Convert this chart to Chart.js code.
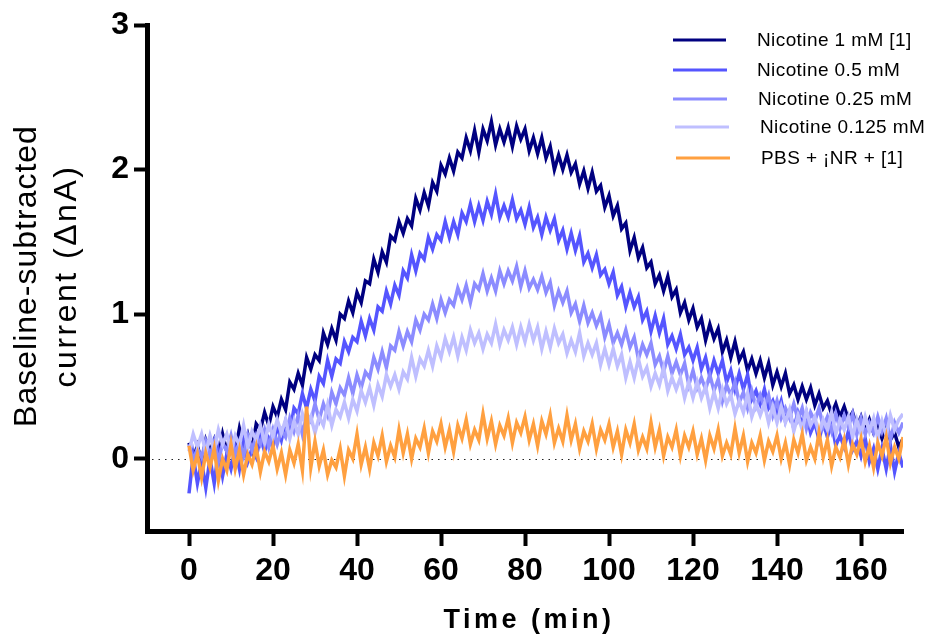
<!DOCTYPE html>
<html>
<head>
<meta charset="utf-8">
<script src="https://cdn.jsdelivr.net/npm/chart.js"></script>
<style>
html, body { margin: 0; padding: 0; background: #fff; }
#wrap { width: 930px; height: 639px; }
</style>
</head>
<body>
<div id="wrap"><canvas id="currentChart" width="930" height="639"></canvas></div>
<script>
// time axis (min), one reading per minute
const timeMin = [
  0, 1, 2, 3, 4, 5, 6, 7, 8, 9, 10, 11, 12, 13, 14, 15, 16, 17, 18, 19,
  20, 21, 22, 23, 24, 25, 26, 27, 28, 29, 30, 31, 32, 33, 34, 35, 36, 37, 38, 39,
  40, 41, 42, 43, 44, 45, 46, 47, 48, 49, 50, 51, 52, 53, 54, 55, 56, 57, 58, 59,
  60, 61, 62, 63, 64, 65, 66, 67, 68, 69, 70, 71, 72, 73, 74, 75, 76, 77, 78, 79,
  80, 81, 82, 83, 84, 85, 86, 87, 88, 89, 90, 91, 92, 93, 94, 95, 96, 97, 98, 99,
  100, 101, 102, 103, 104, 105, 106, 107, 108, 109, 110, 111, 112, 113, 114, 115, 116, 117, 118, 119,
  120, 121, 122, 123, 124, 125, 126, 127, 128, 129, 130, 131, 132, 133, 134, 135, 136, 137, 138, 139,
  140, 141, 142, 143, 144, 145, 146, 147, 148, 149, 150, 151, 152, 153, 154, 155, 156, 157, 158, 159,
  160, 161, 162, 163, 164, 165, 166, 167, 168, 169, 170
];

// baseline-subtracted current (nA)
const nic1mM = [
  0.11, 0.00, 0.09, -0.02, 0.13, 0.05, 0.13, 0.01, 0.17, 0.05,
  0.12, 0.05, 0.21, 0.09, 0.17, 0.06, 0.24, 0.20, 0.32, 0.23,
  0.36, 0.29, 0.41, 0.34, 0.53, 0.48, 0.59, 0.51, 0.70, 0.62,
  0.72, 0.68, 0.87, 0.79, 0.90, 0.82, 1.00, 0.97, 1.09, 1.01,
  1.15, 1.08, 1.23, 1.21, 1.38, 1.29, 1.43, 1.36, 1.54, 1.51,
  1.64, 1.56, 1.66, 1.61, 1.80, 1.72, 1.84, 1.75, 1.91, 1.85,
  2.03, 1.97, 2.08, 1.99, 2.12, 2.08, 2.22, 2.13, 2.27, 2.12,
  2.28, 2.20, 2.33, 2.17, 2.28, 2.19, 2.29, 2.16, 2.30, 2.21,
  2.28, 2.13, 2.22, 2.11, 2.22, 2.08, 2.16, 2.00, 2.10, 2.00,
  2.10, 1.98, 2.04, 1.90, 1.99, 1.87, 1.98, 1.85, 1.89, 1.74,
  1.82, 1.68, 1.75, 1.59, 1.63, 1.44, 1.53, 1.39, 1.46, 1.32,
  1.36, 1.21, 1.27, 1.16, 1.26, 1.12, 1.17, 1.01, 1.08, 0.96,
  1.04, 0.91, 0.97, 0.82, 0.93, 0.83, 0.90, 0.74, 0.82, 0.70,
  0.81, 0.68, 0.74, 0.61, 0.69, 0.59, 0.68, 0.56, 0.66, 0.51,
  0.60, 0.50, 0.59, 0.45, 0.51, 0.41, 0.50, 0.41, 0.49, 0.37,
  0.45, 0.35, 0.40, 0.31, 0.38, 0.29, 0.36, 0.27, 0.32, 0.22,
  0.29, 0.19, 0.27, 0.18, 0.23, 0.14, 0.22, 0.13, 0.18, 0.08, 0.14
];
const nic05mM = [
  -0.24, 0.02, -0.17, -0.02, -0.20, 0.00, -0.17, 0.05, -0.12, 0.03,
  -0.07, 0.07, -0.07, 0.12, -0.02, 0.07, 0.01, 0.15, 0.05, 0.14,
  0.08, 0.23, 0.13, 0.26, 0.18, 0.35, 0.31, 0.45, 0.35, 0.48,
  0.40, 0.57, 0.52, 0.68, 0.57, 0.69, 0.66, 0.81, 0.74, 0.84,
  0.81, 0.95, 0.85, 0.97, 0.89, 1.05, 1.02, 1.16, 1.07, 1.20,
  1.13, 1.30, 1.25, 1.41, 1.30, 1.42, 1.38, 1.53, 1.45, 1.55,
  1.51, 1.64, 1.53, 1.64, 1.55, 1.70, 1.64, 1.76, 1.64, 1.75,
  1.65, 1.78, 1.69, 1.83, 1.67, 1.75, 1.67, 1.79, 1.66, 1.72,
  1.62, 1.74, 1.60, 1.67, 1.55, 1.67, 1.58, 1.66, 1.51, 1.58,
  1.45, 1.56, 1.44, 1.54, 1.36, 1.42, 1.32, 1.41, 1.27, 1.31,
  1.21, 1.29, 1.13, 1.19, 1.05, 1.15, 1.05, 1.12, 0.96, 1.02,
  0.88, 0.99, 0.87, 0.97, 0.79, 0.85, 0.76, 0.86, 0.72, 0.77,
  0.68, 0.77, 0.62, 0.70, 0.57, 0.68, 0.59, 0.68, 0.53, 0.61,
  0.48, 0.59, 0.48, 0.58, 0.41, 0.47, 0.38, 0.48, 0.35, 0.40,
  0.31, 0.40, 0.26, 0.33, 0.21, 0.32, 0.24, 0.32, 0.18, 0.25,
  0.13, 0.25, 0.15, 0.25, 0.09, 0.16, 0.08, 0.19, 0.06, 0.12,
  0.02, 0.14, -0.02, 0.07, -0.07, 0.07, -0.07, 0.09, -0.09, 0.04, -0.06
];
const nic025mM = [
  0.10, -0.01, 0.07, 0.01, 0.12, 0.02, 0.12, -0.02, 0.11, 0.05,
  0.16, 0.03, 0.12, 0.02, 0.16, 0.06, 0.16, 0.10, 0.20, 0.08,
  0.20, 0.10, 0.20, 0.15, 0.28, 0.19, 0.30, 0.17, 0.31, 0.26,
  0.38, 0.27, 0.38, 0.30, 0.46, 0.38, 0.49, 0.44, 0.56, 0.45,
  0.58, 0.49, 0.60, 0.56, 0.70, 0.62, 0.74, 0.63, 0.78, 0.75,
  0.88, 0.78, 0.88, 0.81, 0.96, 0.89, 1.00, 0.96, 1.07, 0.97,
  1.10, 1.01, 1.10, 1.06, 1.18, 1.10, 1.20, 1.08, 1.21, 1.17,
  1.28, 1.16, 1.25, 1.16, 1.30, 1.21, 1.30, 1.23, 1.33, 1.19,
  1.30, 1.18, 1.24, 1.17, 1.26, 1.15, 1.22, 1.06, 1.16, 1.08,
  1.16, 1.01, 1.07, 0.95, 1.06, 0.94, 1.01, 0.92, 0.99, 0.84,
  0.93, 0.80, 0.87, 0.79, 0.89, 0.77, 0.84, 0.69, 0.79, 0.72,
  0.80, 0.65, 0.71, 0.60, 0.71, 0.59, 0.67, 0.58, 0.66, 0.51,
  0.61, 0.49, 0.56, 0.48, 0.58, 0.47, 0.55, 0.40, 0.51, 0.44,
  0.53, 0.39, 0.46, 0.35, 0.47, 0.36, 0.44, 0.36, 0.44, 0.30,
  0.40, 0.28, 0.35, 0.28, 0.38, 0.27, 0.35, 0.21, 0.32, 0.26,
  0.35, 0.22, 0.29, 0.19, 0.31, 0.21, 0.30, 0.22, 0.31, 0.17,
  0.28, 0.17, 0.25, 0.18, 0.29, 0.19, 0.28, 0.13, 0.25, 0.18, 0.25
];
const nic0125mM = [
  0.05, 0.17, 0.08, 0.17, 0.04, 0.16, 0.06, 0.20, 0.10, 0.17,
  0.05, 0.16, 0.09, 0.23, 0.08, 0.19, 0.13, 0.23, 0.11, 0.24,
  0.15, 0.27, 0.18, 0.27, 0.14, 0.26, 0.17, 0.31, 0.22, 0.29,
  0.18, 0.29, 0.23, 0.37, 0.23, 0.34, 0.29, 0.39, 0.28, 0.41,
  0.33, 0.47, 0.39, 0.49, 0.37, 0.51, 0.43, 0.58, 0.50, 0.58,
  0.48, 0.60, 0.55, 0.70, 0.57, 0.69, 0.64, 0.75, 0.64, 0.78,
  0.70, 0.83, 0.74, 0.84, 0.71, 0.84, 0.75, 0.89, 0.80, 0.87,
  0.76, 0.86, 0.80, 0.93, 0.79, 0.89, 0.82, 0.91, 0.79, 0.91,
  0.81, 0.93, 0.82, 0.91, 0.76, 0.88, 0.77, 0.90, 0.80, 0.86,
  0.73, 0.82, 0.74, 0.87, 0.71, 0.80, 0.72, 0.80, 0.65, 0.76,
  0.65, 0.76, 0.64, 0.72, 0.56, 0.67, 0.56, 0.69, 0.57, 0.63,
  0.50, 0.59, 0.51, 0.63, 0.47, 0.56, 0.48, 0.56, 0.42, 0.53,
  0.42, 0.53, 0.42, 0.50, 0.35, 0.46, 0.35, 0.48, 0.38, 0.44,
  0.31, 0.40, 0.32, 0.45, 0.29, 0.38, 0.30, 0.38, 0.25, 0.36,
  0.25, 0.36, 0.25, 0.34, 0.19, 0.30, 0.20, 0.33, 0.23, 0.29,
  0.17, 0.27, 0.20, 0.32, 0.17, 0.27, 0.20, 0.29, 0.15, 0.27,
  0.17, 0.29, 0.19, 0.28, 0.14, 0.26, 0.16, 0.30, 0.20, 0.27, 0.31
];
const pbsControl = [
  0.09, -0.08, 0.03, -0.13, 0.04, -0.06, 0.07, -0.15, 0.00, -0.08,
  0.10, -0.07, 0.06, -0.11, 0.03, -0.04, 0.08, -0.09, 0.05, -0.02,
  0.09, -0.07, 0.04, -0.11, 0.06, -0.03, 0.10, -0.08, 0.36, -0.06,
  0.12, -0.05, 0.06, -0.11, -0.01, -0.06, 0.07, -0.12, 0.06, 0.00,
  0.17, -0.04, 0.08, -0.07, 0.11, 0.02, 0.16, -0.02, 0.09, 0.01,
  0.20, 0.04, 0.17, 0.00, 0.14, 0.08, 0.21, 0.04, 0.19, 0.12,
  0.24, 0.08, 0.20, 0.05, 0.23, 0.14, 0.27, 0.10, 0.20, 0.13,
  0.31, 0.14, 0.26, 0.10, 0.23, 0.16, 0.28, 0.11, 0.25, 0.18,
  0.29, 0.13, 0.24, 0.09, 0.26, 0.17, 0.30, 0.11, 0.21, 0.12,
  0.30, 0.13, 0.24, 0.07, 0.19, 0.12, 0.24, 0.07, 0.20, 0.13,
  0.24, 0.08, 0.19, 0.03, 0.20, 0.11, 0.24, 0.06, 0.15, 0.07,
  0.25, 0.08, 0.20, 0.02, 0.15, 0.08, 0.20, 0.02, 0.16, 0.08,
  0.19, 0.03, 0.14, -0.01, 0.16, 0.07, 0.20, 0.02, 0.11, 0.03,
  0.21, 0.04, 0.16, -0.02, 0.11, 0.04, 0.16, -0.01, 0.12, 0.05,
  0.16, 0.00, 0.11, -0.04, 0.13, 0.04, 0.17, -0.01, 0.08, 0.00,
  0.18, 0.01, 0.13, -0.05, 0.08, 0.01, 0.13, -0.04, 0.10, 0.03,
  0.14, -0.02, 0.09, -0.06, 0.11, 0.02, 0.15, -0.03, 0.08, 0.00, 0.15
];

const seriesLabels = ['Nicotine 1 mM [1]', 'Nicotine 0.5 mM', 'Nicotine 0.25 mM', 'Nicotine 0.125 mM', 'PBS + \u00a1NR + [1]'];
const timeTicks = [0, 20, 40, 60, 80, 100, 120, 140, 160];
const currentTicks = [0, 1, 2, 3];

const seriesData = [nic1mM, nic05mM, nic025mM, nic0125mM, pbsControl];
const seriesColors = ['#000080', '#5555ff', '#8c8cff', '#bfbfff', '#ffa040'];
const FONT = "'Liberation Sans', Arial, sans-serif";

function toPoints(values) {
    return timeMin.map((t, i) => ({ x: t, y: values[i] }));
}

// dotted line at y = 0, under the traces
const zeroLine = {
    id: 'zeroLine',
    beforeDatasetsDraw(chart) {
        const { ctx, chartArea, scales } = chart;
        const y = Math.round(scales.y.getPixelForValue(0)) + 0.5;
        ctx.save();
        ctx.setLineDash([1.5, 5]);
        ctx.strokeStyle = '#222';
        ctx.lineWidth = 1.2;
        ctx.beginPath();
        ctx.moveTo(chartArea.left + 5, y);
        ctx.lineTo(chartArea.right, y);
        ctx.stroke();
        ctx.restore();
    }
};

// axis titles (letter spaced) and the legend box top right
const extras = {
    id: 'extras',
    afterDraw(chart) {
        const { ctx, chartArea } = chart;
        ctx.save();
        ctx.fillStyle = '#000';
        ctx.textAlign = 'center';
        ctx.textBaseline = 'middle';

        ctx.font = 'bold 27px ' + FONT;
        ctx.letterSpacing = '3.5px';
        ctx.fillText('Time (min)', (chartArea.left + chartArea.right) / 2 + 4, 621);

        const midY = (chartArea.top + chartArea.bottom) / 2 - 2;
        ctx.font = '32px ' + FONT;
        ctx.letterSpacing = '1px';
        ctx.save();
        ctx.translate(27, midY);
        ctx.rotate(-Math.PI / 2);
        ctx.fillText('Baseline-subtracted', 0, 0);
        ctx.restore();
        ctx.letterSpacing = '2.5px';
        ctx.save();
        ctx.translate(67, midY);
        ctx.rotate(-Math.PI / 2);
        ctx.fillText('current (\u0394nA)', 0, 0);
        ctx.restore();

        const rows = [
            { y: 40, x0: 673, x1: 726, tx: 757 },
            { y: 70, x0: 673, x1: 727, tx: 757 },
            { y: 99, x0: 673, x1: 727, tx: 758 },
            { y: 127, x0: 675, x1: 729, tx: 760 },
            { y: 158, x0: 676, x1: 730, tx: 761 }
        ];
        ctx.letterSpacing = '0.4px';
        ctx.font = '19px ' + FONT;
        ctx.textAlign = 'left';
        chart.data.datasets.forEach((ds, i) => {
            const r = rows[i];
            ctx.strokeStyle = ds.borderColor;
            ctx.lineWidth = 3;
            ctx.beginPath();
            ctx.moveTo(r.x0, r.y);
            ctx.lineTo(r.x1, r.y);
            ctx.stroke();
            ctx.fillStyle = '#000';
            ctx.fillText(ds.label, r.tx, r.y + 1);
        });
        ctx.restore();
    }
};

const ctx = document.getElementById('currentChart').getContext('2d');

const data = {
    datasets: seriesData.map((values, i) => ({
        label: seriesLabels[i],
        data: toPoints(values),
        borderColor: seriesColors[i],
        borderWidth: 3.5,
        borderJoinStyle: 'miter',
        pointRadius: 0,
        tension: 0,
        fill: false,
        order: seriesData.length - 1 - i   // PBS drawn last, on top
    }))
};

const config = {
    type: 'line',
    data: data,
    options: {
        responsive: false,
        animation: false,
        devicePixelRatio: 1,
        layout: {
            padding: { top: 25, right: 27, left: 0, bottom: 0 }
        },
        plugins: {
            legend: { display: false },
            tooltip: { enabled: false }
        },
        scales: {
            x: {
                type: 'linear',
                min: -10,
                max: 170,
                afterBuildTicks: scale => { scale.ticks = timeTicks.map(v => ({ value: v })); },
                afterFit: scale => { scale.height = 108; },
                grid: {
                    drawOnChartArea: false,
                    drawTicks: true,
                    tickLength: 15,
                    tickWidth: 4,
                    tickColor: '#000'
                },
                border: { display: true, color: '#000', width: 5 },
                ticks: {
                    padding: 6,
                    color: '#000',
                    maxRotation: 0,
                    autoSkip: false,
                    font: { family: FONT, size: 32, weight: 'bold' }
                }
            },
            y: {
                type: 'linear',
                min: -0.5,
                max: 3,
                afterBuildTicks: scale => { scale.ticks = currentTicks.map(v => ({ value: v })); },
                afterFit: scale => { scale.width = 147; },
                grid: {
                    drawOnChartArea: false,
                    drawTicks: true,
                    tickLength: 13,
                    tickWidth: 4,
                    tickColor: '#000'
                },
                border: { display: true, color: '#000', width: 5 },
                ticks: {
                    padding: 5,
                    color: '#000',
                    font: { family: FONT, size: 32, weight: 'bold' }
                }
            }
        }
    },
    plugins: [zeroLine, extras]
};

new Chart(ctx, config);
</script>
</body>
</html>
